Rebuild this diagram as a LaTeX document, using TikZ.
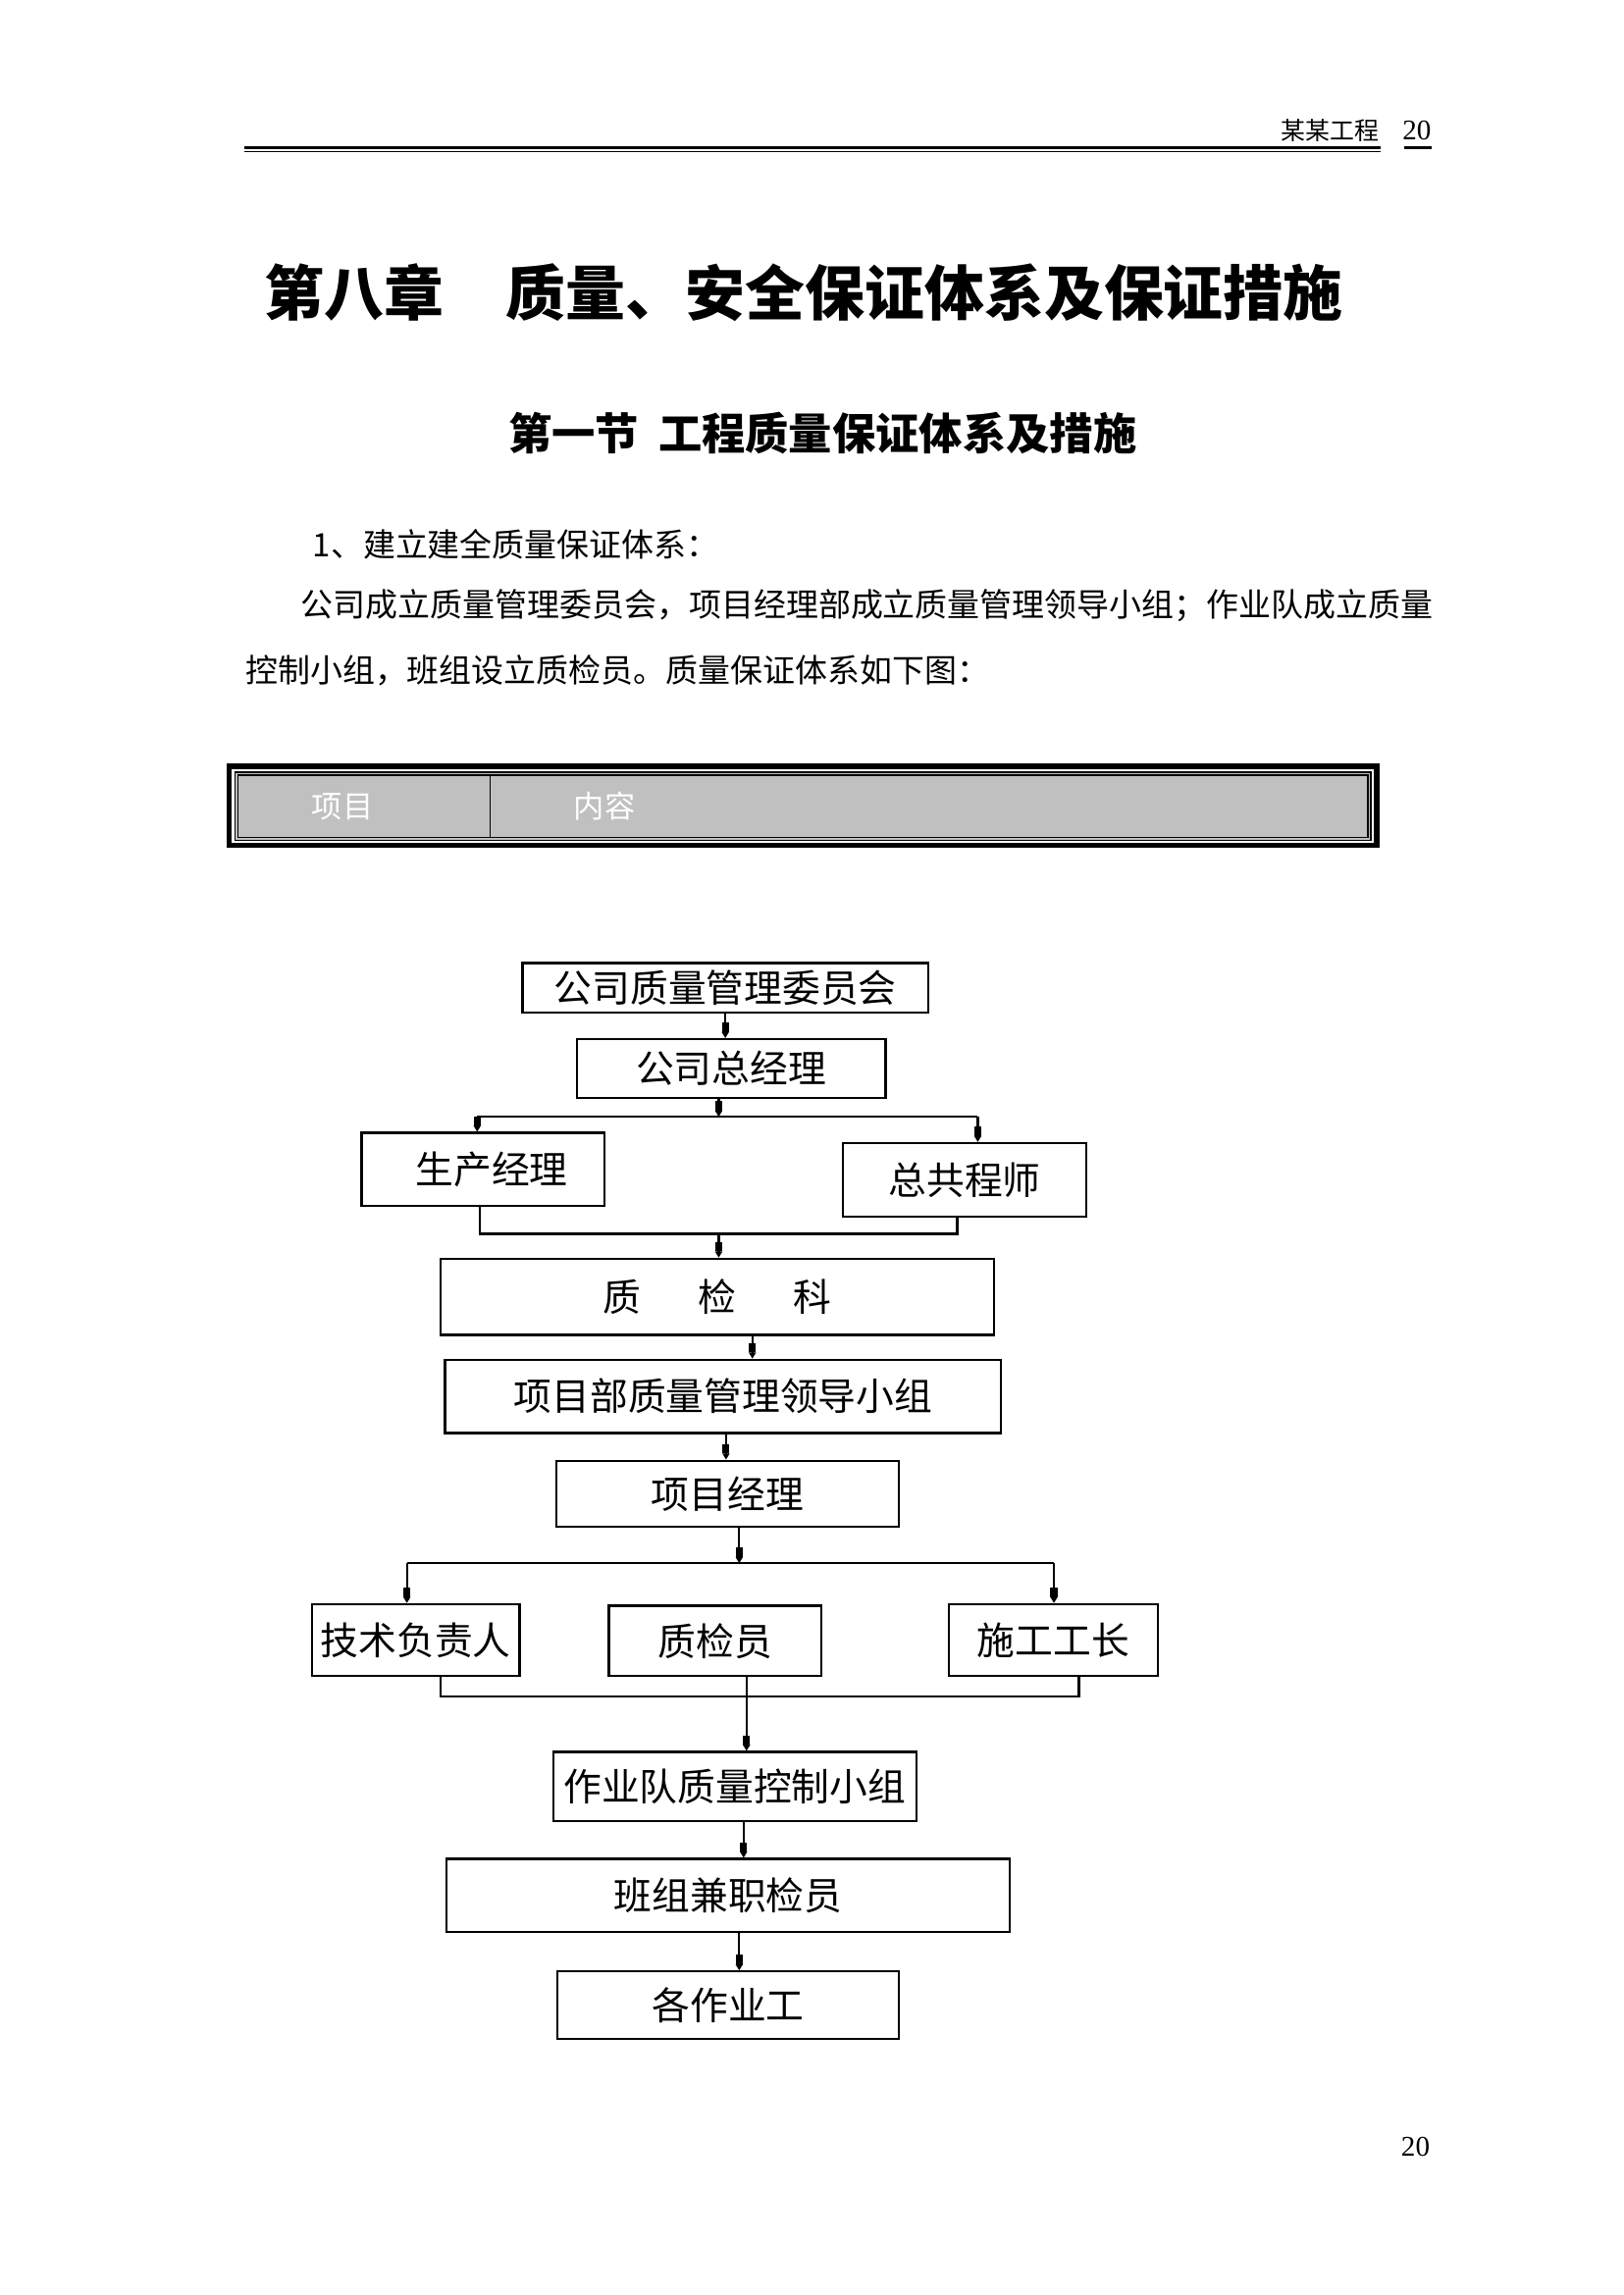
\documentclass[tikz,border=0pt]{standalone}
\usepackage{fontspec}
\setmainfont{Liberation Serif}
\newfontfamily\hei{Noto Sans CJK SC}
\usetikzlibrary{arrows.meta}
\newlength\px
\setlength\px{0.18936mm}
\tikzset{>={Rectangle[length=1.2mm,width=0.9mm]Triangle[length=0.8mm,width=0.9mm]}}
\tikzset{box/.style={draw,line width=0.8pt,inner sep=0pt,font=\hei\fontsize{14}{14}\selectfont},
  txt/.style={inner sep=0pt,anchor=west,font=\hei\fontsize{11.9}{14}\selectfont}}

\begin{document}
\begin{tikzpicture}[x=\px,y=-\px,line width=0.8pt]
  \useasboundingbox (0,0) rectangle (1109,1568);
  % page head
  \node[inner sep=0pt,anchor=east,font=\hei\fontsize{9}{9}\selectfont] (hd) at (943,89) {某某工程};
  \node[inner sep=0pt,font=\fontsize{10.5}{10.5}\selectfont] (pg) at (968,89) {20};
  \draw[line width=1.2pt] (167,101) -- (943,101);
  \draw[line width=0.4pt] (167,103.6) -- (943,103.6);
  \draw[line width=1.2pt] (959,101) -- (978,101);
  % headings and text
  \node[inner sep=0pt,font=\hei\bfseries\fontsize{22}{22}\selectfont] (zhang) at (549,200)
    {第八章\hspace{1.05em}质量、安全保证体系及保证措施};
  \node[inner sep=0pt,font=\hei\bfseries\fontsize{16}{16}\selectfont] (jie) at (562,296)
    {第一节\hspace{0.45em}工程质量保证体系及措施};
  \node[txt] (t1) at (213,372) {1、建立建全质量保证体系：};
  \node[txt] (t2) at (205,414) {公司成立质量管理委员会，项目经理部成立质量管理领导小组；作业队成立质量};
  \node[txt] (t3) at (167,458) {控制小组，班组设立质检员。质量保证体系如下图：};
  % grey table row
  \draw[line width=2pt] (156.5,523.5) rectangle (940.5,577.5);
  \draw[line width=0.5pt,fill={rgb,255:red,192;green,192;blue,192}] (160.5,527.5) rectangle (936.5,574);
  \draw[line width=0.5pt] (162.5,529.5) rectangle (934.5,572) (335,529.5) -- (335,572);
  \node[inner sep=0pt,text=white,font=\hei\fontsize{11.3}{11.3}\selectfont] (xm) at (234,551) {项目};
  \node[inner sep=0pt,text=white,font=\hei\fontsize{11.3}{11.3}\selectfont] (nr) at (413,551) {内容};

  % flow chart
  \node[box,minimum width=277\px,minimum height=34\px] (wyh) at (495.5,675) {公司质量管理委员会};
  \node[box,minimum width=211\px,minimum height=40\px] (zjl) at (499.5,730) {公司总经理};
  \node[box,minimum width=166\px,minimum height=50\px] (scjl) at (330,799) {\hspace{12\px}\raisebox{-3pt}{生产经理}};
  \node[box,minimum width=166\px,minimum height=50\px] (zgcs) at (659,806) {\raisebox{-4pt}{总共程师}};
  \node[box,minimum width=378\px,minimum height=52\px] (zjk) at (490,886) {质\hspace{1.5em}检\hspace{1.5em}科};
  \node[box,minimum width=380\px,minimum height=50\px] (ldxz) at (494,954) {项目部质量管理领导小组};
  \node[box,minimum width=234\px,minimum height=45\px] (xmjl) at (497,1020.5) {项目经理};
  \node[box,minimum width=142\px,minimum height=49\px] (jsfz) at (284,1120.5) {技术负责人};
  \node[box,minimum width=145\px,minimum height=48\px] (zjy) at (488.5,1121) {质检员};
  \node[box,minimum width=143\px,minimum height=49\px] (sggz) at (719.5,1120.5) {施工工长};
  \node[box,minimum width=248\px,minimum height=47\px] (kzxz) at (502,1220.5) {作业队质量控制小组};
  \node[box,minimum width=385\px,minimum height=50\px] (jjy) at (497.5,1295) {班组兼职检员};
  \node[box,minimum width=233\px,minimum height=46\px] (zyg) at (497.5,1370) {各作业工};

  \coordinate (fa) at (491,763);
  \coordinate (faL) at (326,763);
  \coordinate (faR) at (668,763);
  \coordinate (ha) at (491,843);
  \coordinate (haL) at (328,843);
  \coordinate (haR) at (654,843);
  \coordinate (fb) at (505,1068);
  \coordinate (fbL) at (278,1068);
  \coordinate (fbR) at (720,1068);
  \coordinate (hb) at (510,1159);
  \coordinate (hbL) at (301,1159);
  \coordinate (hbR) at (737,1159);

  \draw[->] (wyh.south) -- (wyh.south |- zjl.north);
  \draw[->] (fa |- zjl.south) -- (fa);
  \draw (faL) -- (faR);
  \draw[->] (faL) -- (faL |- scjl.north);
  \draw[->] (faR) -- (faR |- zgcs.north);
  \draw (haL |- scjl.south) -- (haL) -- (haR) -- (haR |- zgcs.south);
  \draw[->] (ha) -- (ha |- zjk.north);
  \draw[->] (514,0 |- zjk.south) -- (514,0 |- ldxz.north);
  \draw[->] (496,0 |- ldxz.south) -- (496,0 |- xmjl.north);
  \draw[->] (fb |- xmjl.south) -- (fb);
  \draw (fbL) -- (fbR);
  \foreach \p/\b in {fbL/jsfz,fbR/sggz}
    \draw[->] (\p) -- (\p |- \b.north);
  \draw (hbL |- jsfz.south) -- (hbL) -- (hbR) -- (hbR |- sggz.south);
  \draw[->] (hb |- zjy.south) -- (hb |- kzxz.north);
  \draw[->] (508,0 |- kzxz.south) -- (508,0 |- jjy.north);
  \draw[->] (505,0 |- jjy.south) -- (505,0 |- zyg.north);

  \node[inner sep=0pt,font=\fontsize{10.5}{10.5}\selectfont] (ym) at (967,1467) {20};
\end{tikzpicture}
\end{document}
